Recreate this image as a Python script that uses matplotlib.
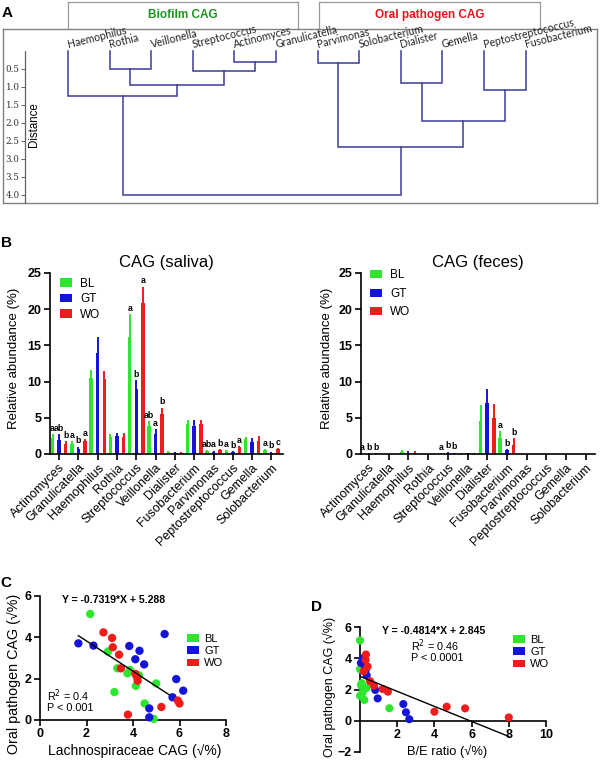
import matplotlib
matplotlib.use('Agg')
import matplotlib.pyplot as plt
import numpy as np
from matplotlib.patches import Patch

plt.rcParams['font.family'] = ['Liberation Sans', 'DejaVu Sans']

W, H = 600, 767
fig = plt.figure(figsize=(6, 7.67), dpi=100)


def add_ax(l, t, r, b):
    return fig.add_axes([l / W, 1 - b / H, (r - l) / W, (b - t) / H])


def fx(px):
    return px / W


def fy(py):
    return 1 - py / H


GREEN = '#2ee62e'
BLUE = '#1414d8'
RED = '#ee1c1c'
DENDRO = '#3c3c96'

# ---------------- Data ----------------
leaves = ['Haemophilus', 'Rothia', 'Veillonella', 'Streptococcus', 'Actinomyces',
          'Granulicatella', 'Parvimonas', 'Solobacterium', 'Dialister', 'Gemella',
          'Peptostreptococcus', 'Fusobacterium']
# linkage rows: [left, right, distance]; ids >= 12 refer to earlier rows
link_left = [4, 1, 3, 13, 0, 6, 8, 10, 18, 17, 16]
link_right = [5, 2, 12, 14, 15, 7, 9, 11, 19, 20, 21]
link_dist = [0.30, 0.49, 0.55, 0.95, 1.25, 0.32, 0.88, 1.08, 1.95, 2.66, 4.0]
dist_ticks = [0.5, 1.0, 1.5, 2.0, 2.5, 3.0, 3.5, 4.0]

cats = ['Actinomyces', 'Granulicatella', 'Haemophilus', 'Rothia', 'Streptococcus',
        'Veillonella', 'Dialister', 'Fusobacterium', 'Parvimonas',
        'Peptostreptococcus', 'Gemella', 'Solobacterium']
groups = ['BL', 'GT', 'WO']

saliva_BL = [2.2, 1.45, 10.5, 2.35, 16.2, 3.9, 0.27, 4.1, 0.4, 0.4, 2.1, 0.5]
saliva_BL_sem = [0.5, 0.35, 1.1, 0.45, 3.1, 0.6, 0.13, 0.55, 0.15, 0.15, 0.25, 0.15]
saliva_GT = [1.9, 0.65, 13.95, 2.45, 9.0, 2.7, 0.2, 3.8, 0.3, 0.25, 1.7, 0.2]
saliva_GT_sem = [0.8, 0.35, 2.15, 0.5, 1.2, 0.75, 0.1, 0.9, 0.15, 0.1, 0.5, 0.1]
saliva_WO = [1.45, 1.8, 10.4, 2.35, 20.9, 5.5, 0.18, 4.1, 0.55, 0.9, 1.8, 0.65]
saliva_WO_sem = [0.35, 0.25, 1.1, 0.55, 2.2, 0.9, 0.09, 0.6, 0.15, 0.2, 0.7, 0.15]
saliva_letters = {0: ['a', 'ab', 'b'], 1: ['a', 'b', 'a'], 4: ['a', 'b', 'a'],
                  5: ['ab', 'a', 'b'], 8: ['ab', 'a', 'b'], 9: ['a', 'b', 'a'],
                  11: ['a', 'b', 'c']}

feces_BL = [0.05, 0, 0.3, 0, 0.05, 0.05, 4.6, 2.2, 0, 0, 0, 0]
feces_BL_sem = [0.05, 0, 0.25, 0, 0.05, 0.05, 2.2, 0.95, 0, 0, 0, 0]
feces_GT = [0.05, 0, 0.2, 0, 0.15, 0.1, 7.0, 0.55, 0, 0, 0, 0]
feces_GT_sem = [0.05, 0, 0.2, 0, 0.15, 0.1, 1.95, 0.15, 0, 0, 0, 0]
feces_WO = [0.05, 0, 0.2, 0, 0.1, 0.05, 5.0, 1.3, 0, 0, 0, 0]
feces_WO_sem = [0.05, 0, 0.15, 0, 0.1, 0.07, 1.9, 0.9, 0, 0, 0, 0]
feces_letters = {0: ['a', 'b', 'b'], 4: ['a', 'b', 'b'], 7: ['a', 'b', 'b']}

# Panel C scatter
C_BL_x = [2.16, 2.92, 3.33, 3.76, 3.87, 3.2, 4.26, 4.12, 5.0, 4.5, 4.89]
C_BL_y = [5.13, 3.31, 2.5, 2.26, 2.42, 1.35, 2.16, 1.65, 1.77, 0.8, 0.05]
C_GT_x = [1.65, 2.3, 3.84, 4.28, 4.1, 4.48, 5.36, 5.86, 6.16, 5.7, 4.7, 4.7]
C_GT_y = [3.71, 3.6, 3.58, 3.35, 2.94, 2.69, 4.16, 1.98, 1.42, 1.1, 0.56, 0.13]
C_WO_x = [2.73, 3.1, 3.13, 3.4, 3.48, 4.1, 4.17, 4.2, 5.22, 5.93, 6.0, 3.78]
C_WO_y = [4.24, 3.97, 3.52, 3.16, 2.5, 2.23, 2.08, 1.9, 0.63, 0.94, 0.8, 0.26]
C_slope, C_icpt = -0.7319, 5.288
C_fit_range = [1.65, 5.55]

# Panel D scatter
D_BL_x = [0.0, 0.0, 0.05, 0.1, 0.0, 0.14, 0.23, 0.36, 1.58, 0.1]
D_BL_y = [5.14, 3.3, 2.3, 2.2, 1.6, 1.8, 1.33, 2.1, 0.8, 2.4]
D_GT_x = [0.14, 0.2, 0.36, 0.3, 0.82, 0.95, 2.33, 2.47, 2.65, 0.05]
D_GT_y = [4.0, 3.6, 2.9, 3.2, 1.97, 1.43, 1.07, 0.54, 0.1, 3.7]
D_WO_x = [0.32, 0.3, 0.41, 0.2, 0.54, 0.75, 1.22, 1.5, 4.0, 4.66, 5.65, 8.0]
D_WO_y = [4.24, 3.9, 3.47, 3.17, 2.53, 2.25, 2.03, 1.86, 0.58, 0.9, 0.79, 0.21]
D_slope, D_icpt = -0.4814, 2.845
D_fit_range = [0.0, 8.0]

# ---------------- Panel A ----------------
fig.text(fx(7), fy(13), 'A', fontsize=11, fontweight='bold', ha='center', va='center')

for (l, r, label, col) in [(68, 298, 'Biofilm CAG', '#1e941e'), (319, 540, 'Oral pathogen CAG', '#e8141c')]:
    hb = add_ax(l, 2, r, 29)
    hb.set_xticks([]); hb.set_yticks([])
    hb.spines['bottom'].set_visible(False)
    for s in ['left', 'top', 'right']:
        hb.spines[s].set_color('#9a9a9a'); hb.spines[s].set_linewidth(0.9)
    hb.text(0.5, 0.52, label, color=col, fontsize=8.5, fontweight='bold',
            ha='center', va='center', transform=hb.transAxes)

frame = add_ax(3, 29, 597, 203)
frame.set_xticks([]); frame.set_yticks([])
for s in frame.spines.values():
    s.set_color('#808080'); s.set_linewidth(1.0)

axA = add_ax(25, 51, 597, 203)
axA.patch.set_visible(False)
x_left = (25 - 68) / 41.6
x_right = (597 - 68) / 41.6
axA.set_xlim(x_left, x_right)
axA.set_ylim((203 - 51) / 36.0, 0)
for s in ['top', 'right', 'bottom']:
    axA.spines[s].set_visible(False)
axA.spines['left'].set_color('#606060')
axA.spines['left'].set_linewidth(0.9)
axA.set_xticks([])
axA.set_yticks(dist_ticks)
axA.set_yticklabels(['%.1f' % t for t in dist_ticks], family='DejaVu Serif',
                    fontsize=6.3, color='#333333')
axA.tick_params(axis='y', length=3, width=0.7, color='#606060', pad=1)

nodes_x = {i: float(i) for i in range(len(leaves))}
nodes_h = {i: 0.0 for i in range(len(leaves))}
for k, (l, r, d) in enumerate(zip(link_left, link_right, link_dist)):
    xl, xr = nodes_x[l], nodes_x[r]
    hl, hr = nodes_h[l], nodes_h[r]
    axA.plot([xl, xl, xr, xr], [hl, d, d, hr], color=DENDRO, lw=1.1,
             solid_joinstyle='miter', clip_on=False)
    nodes_x[len(leaves) + k] = (xl + xr) / 2
    nodes_h[len(leaves) + k] = d

for i, name in enumerate(leaves):
    axA.text(i + 0.02, -0.03, name, rotation=14, rotation_mode='anchor',
             ha='left', va='bottom', fontsize=7.6, color='#222222', family=['Lato', 'DejaVu Sans'])

fig.text(fx(34), fy(125), 'Distance', rotation=90, fontsize=8.3, ha='center', va='center')

# ---------------- Panel B ----------------
fig.text(fx(6), fy(243), 'B', fontsize=11, fontweight='bold', ha='center', va='center')


def bar_panel(ax, series, sems, letters, title, xlim):
    x = np.arange(len(cats))
    off, w = 0.34, 0.18
    cols = [GREEN, BLUE, RED]
    for j, (vals, errs, col) in enumerate(zip(series, sems, cols)):
        vals = np.array(vals, float); errs = np.array(errs, float)
        xs = x + (j - 1) * off
        ax.bar(xs, vals, width=w, color=col, linewidth=0, zorder=2)
        ax.errorbar(xs, vals, yerr=[np.zeros_like(errs), errs], fmt='none',
                    ecolor=col, elinewidth=1.4, capsize=0, zorder=2)
        for ci, labs in letters.items():
            ax.annotate(labs[j], (xs[ci], vals[ci] + errs[ci]), xytext=(0, 1),
                        textcoords='offset points', ha='center', va='bottom',
                        fontsize=6.3, fontweight='bold')
    ax.set_xlim(*xlim)
    ax.set_ylim(0, 25)
    ax.set_yticks([0, 5, 10, 15, 20, 25])
    ax.set_yticklabels(['0', '5', '10', '15', '20', '25'], fontweight='bold', fontsize=9)
    ax.set_xticks(x)
    ax.set_xticklabels(cats, rotation=45, ha='right', rotation_mode='anchor', fontsize=9)
    for s in ['top', 'right']:
        ax.spines[s].set_visible(False)
    for s in ['left', 'bottom']:
        ax.spines[s].set_linewidth(1.2)
    ax.tick_params(axis='both', length=4, width=1.2, pad=2)
    ax.tick_params(axis='x', pad=1.5)
    ax.set_title(title, fontsize=12, pad=4)
    handles = [Patch(facecolor=c, edgecolor='none', label=g) for c, g in zip(cols, groups)]
    return handles


axS = add_ax(50, 273, 283, 454)
h = bar_panel(axS, [saliva_BL, saliva_GT, saliva_WO], [saliva_BL_sem, saliva_GT_sem, saliva_WO_sem],
              saliva_letters, 'CAG (saliva)', (-0.47, 11.6))
axS.set_ylabel('Relative abundance (%)', fontsize=9.5)
axS.yaxis.set_label_coords((20 - 50) / 233, 0.527)
axS.legend(handles=h, loc='upper left', bbox_to_anchor=(0.043, 0.975), frameon=False,
           fontsize=8.5, handlelength=1.0, handleheight=0.7, handletextpad=0.7,
           labelspacing=0.3, borderaxespad=0, borderpad=0)

axF = add_ax(361, 273, 595, 454)
h = bar_panel(axF, [feces_BL, feces_GT, feces_WO], [feces_BL_sem, feces_GT_sem, feces_WO_sem],
              feces_letters, 'CAG (feces)', (-0.41, 11.47))
axF.set_ylabel('Relative abundance (%)', fontsize=9.5)
axF.yaxis.set_label_coords((333 - 361) / 234, 0.527)
axF.legend(handles=h, loc='upper left', bbox_to_anchor=(0.038, 1.02), frameon=False,
           fontsize=8.5, handlelength=1.0, handleheight=0.7, handletextpad=0.7,
           labelspacing=0.55, borderaxespad=0, borderpad=0)


# ---------------- Panel C ----------------
def style_scatter(ax):
    for s in ['top', 'right']:
        ax.spines[s].set_visible(False)
    for s in ['left', 'bottom']:
        ax.spines[s].set_linewidth(1.2)
    ax.tick_params(axis='both', length=4, width=1.2, pad=2, labelsize=9)
    for t in ax.get_xticklabels() + ax.get_yticklabels():
        t.set_fontweight('bold')


fig.text(fx(6), fy(583), 'C', fontsize=11, fontweight='bold', ha='center', va='center')
axC = add_ax(40, 596, 226, 720)
for xs, ys, col, g in [(C_BL_x, C_BL_y, GREEN, 'BL'), (C_GT_x, C_GT_y, BLUE, 'GT'), (C_WO_x, C_WO_y, RED, 'WO')]:
    axC.scatter(xs, ys, s=36, color=col, edgecolors='none', label=g, zorder=3, clip_on=False)
xf = np.array(C_fit_range)
axC.plot(xf, C_slope * xf + C_icpt, color='black', lw=1.0, zorder=4)
axC.set_xlim(0, 8); axC.set_ylim(0, 6)
axC.set_xticks([0, 2, 4, 6, 8]); axC.set_yticks([0, 2, 4, 6])
style_scatter(axC)
axC.set_xlabel('Lachnospiraceae CAG (√%)', fontsize=10)
axC.xaxis.set_label_coords(0.51, -0.19)
axC.set_ylabel('Oral pathogen CAG (√%)', fontsize=10.3)
axC.yaxis.set_label_coords(-0.1, 0.37)
axC.text(fx(62), fy(600), 'Y = -0.7319*X + 5.288', transform=fig.transFigure,
         fontsize=7.6, fontweight='bold', ha='left', va='center')
axC.text(fx(47), fy(696), 'R$^2$ = 0.4', transform=fig.transFigure, fontsize=7.8, ha='left', va='center')
axC.text(fx(47), fy(708), 'P < 0.001', transform=fig.transFigure, fontsize=7.8, ha='left', va='center')
hC = [Patch(facecolor=c, edgecolor='none', label=g) for c, g in zip([GREEN, BLUE, RED], groups)]
axC.legend(handles=hC, loc='upper left', bbox_to_anchor=((187 - 40) / 186, (720 - 634) / 124),
           frameon=False, fontsize=8, handlelength=1.05, handleheight=0.7, handletextpad=0.5,
           labelspacing=0.2, borderaxespad=0, borderpad=0)

# ---------------- Panel D ----------------
fig.text(fx(317), fy(607), 'D', fontsize=11, fontweight='bold', ha='center', va='center')
axD = add_ax(360, 627, 546, 752)
for xs, ys, col, g in [(D_BL_x, D_BL_y, GREEN, 'BL'), (D_GT_x, D_GT_y, BLUE, 'GT'), (D_WO_x, D_WO_y, RED, 'WO')]:
    axD.scatter(xs, ys, s=34, color=col, edgecolors='none', label=g, zorder=3, clip_on=False)
xf = np.array(D_fit_range)
axD.plot(xf, D_slope * xf + D_icpt, color='black', lw=1.0, zorder=4)
axD.set_xlim(0, 10); axD.set_ylim(-2, 6)
axD.spines['bottom'].set_position(('data', 0))
axD.set_xticks([2, 4, 6, 8, 10]); axD.set_yticks([-2, 0, 2, 4, 6])
style_scatter(axD)
axD.set_xlabel('B/E ratio (√%)', fontsize=9.3)
axD.xaxis.set_label_coords(0.47, 0.06)
axD.set_ylabel('Oral pathogen CAG (√%)', fontsize=9.0)
axD.yaxis.set_label_coords(-0.13, 0.52)
axD.text(fx(382), fy(631), 'Y = -0.4814*X + 2.845', transform=fig.transFigure,
         fontsize=7.6, fontweight='bold', ha='left', va='center')
axD.text(fx(411), fy(646), 'R$^2$ = 0.46', transform=fig.transFigure, fontsize=7.8, ha='left', va='center')
axD.text(fx(411), fy(658), 'P < 0.0001', transform=fig.transFigure, fontsize=7.8, ha='left', va='center')
hD = [Patch(facecolor=c, edgecolor='none', label=g) for c, g in zip([GREEN, BLUE, RED], groups)]
axD.legend(handles=hD, loc='upper left', bbox_to_anchor=((513 - 360) / 186, (752 - 635) / 125),
           frameon=False, fontsize=8, handlelength=1.05, handleheight=0.7, handletextpad=0.5,
           labelspacing=0.2, borderaxespad=0, borderpad=0)

fig.savefig('out.png', dpi=100)
